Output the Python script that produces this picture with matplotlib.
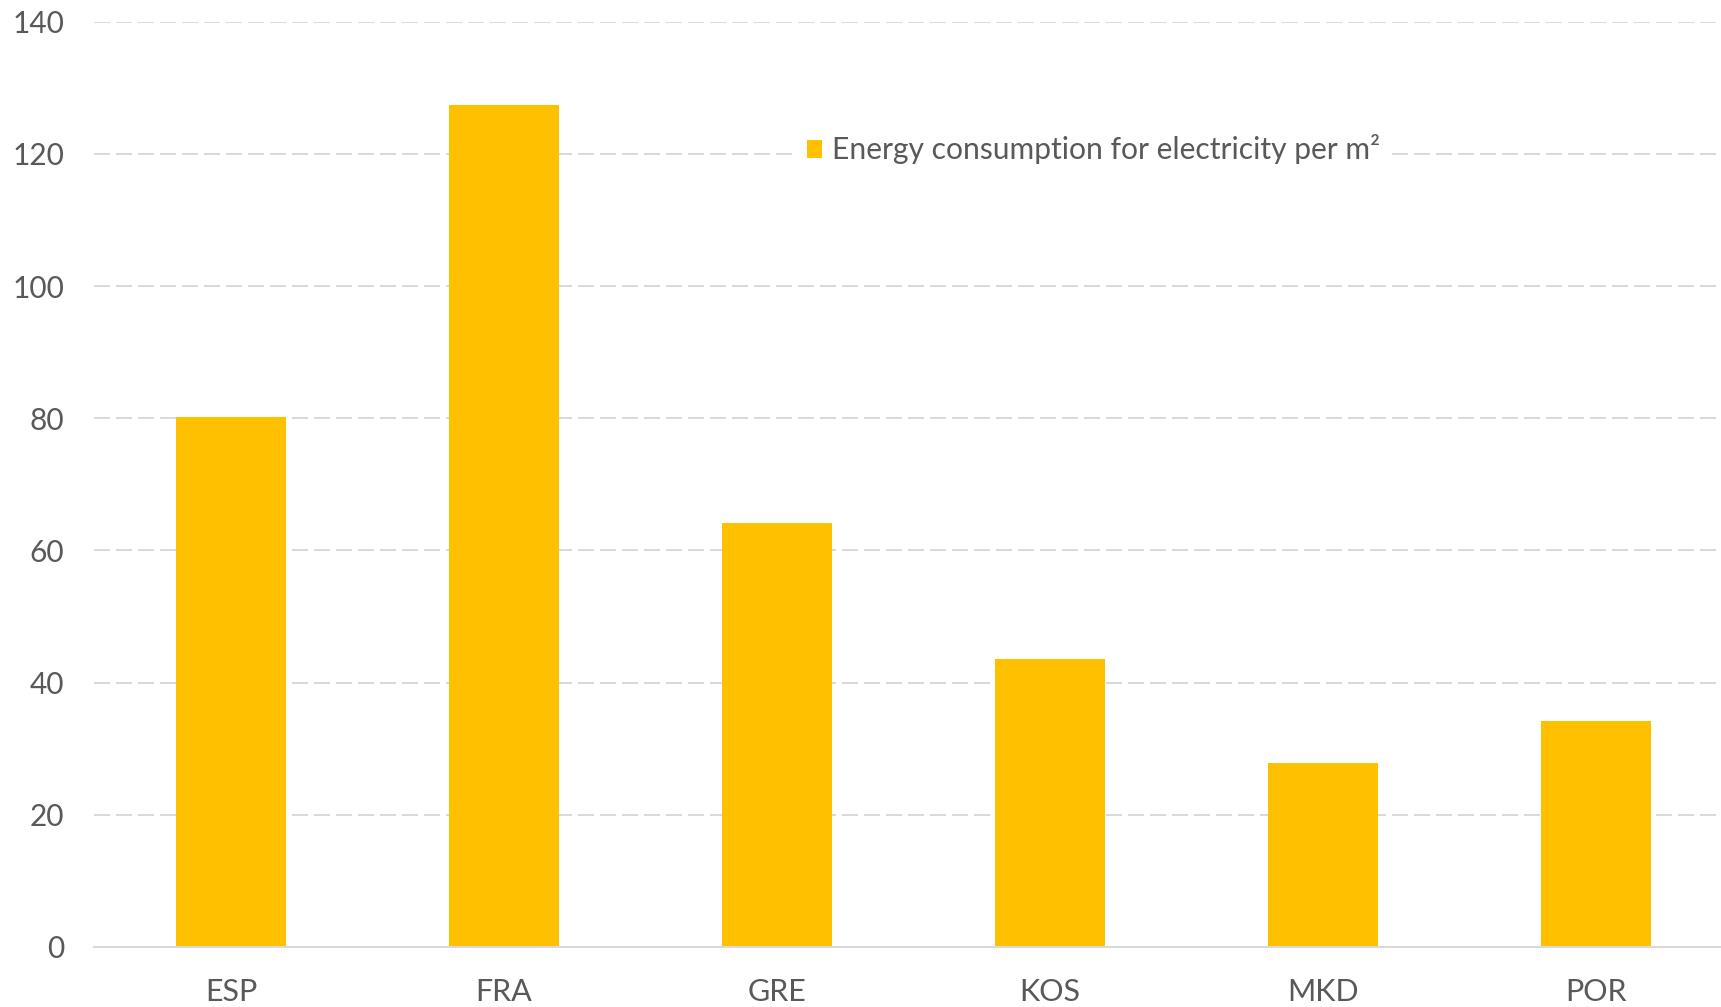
import numpy as np
import matplotlib.pyplot as plt

countries = ["ESP", "FRA", "GRE", "KOS", "MKD", "POR"]
electricity_per_m2 = [80.2, 127.4, 64.2, 43.6, 27.8, 34.2]
yticks = [0, 20, 40, 60, 80, 100, 120, 140]

plt.rcParams['font.family'] = ['Lato', 'DejaVu Sans']
text_col = "#595959"
grid_col = "#d9d9d9"

fig = plt.figure(figsize=(17.21, 10.07), dpi=100)
ax = fig.add_axes([0.0549, 0.0596, 0.9518, 0.9189])

x = np.arange(len(countries))
ax.bar(x, electricity_per_m2, width=0.403, color="#ffc000",
       label="Energy consumption for electricity per m²", zorder=3)

ax.set_xlim(-0.5, len(countries) - 0.5)
ax.set_ylim(0, 140)
ax.set_yticks(yticks)
ax.set_xticks(x)
ax.set_xticklabels(countries)

ax.yaxis.grid(True, color=grid_col, linewidth=1.44, linestyle=(0, (8, 3)), zorder=0)
ax.set_axisbelow(True)

for s in ["top", "right", "left"]:
    ax.spines[s].set_visible(False)
ax.spines["bottom"].set_color(grid_col)
ax.spines["bottom"].set_linewidth(1.44)
ax.spines["bottom"].set_zorder(4)

ax.tick_params(axis="both", length=0, labelcolor=text_col)
ax.tick_params(axis="x", pad=22, labelsize=22)
ax.tick_params(axis="y", pad=22, labelsize=21.5)

leg = ax.legend(loc="center", bbox_to_anchor=(0.6099, 0.862), frameon=True,
                fontsize=21.6, handlelength=0.53, handleheight=0.53,
                handletextpad=0.33, borderpad=0.4)
leg.get_frame().set_facecolor("white")
leg.get_frame().set_edgecolor("none")
leg.get_frame().set_alpha(1)
for t in leg.get_texts():
    t.set_color(text_col)

fig.savefig("out.png", dpi=100)
